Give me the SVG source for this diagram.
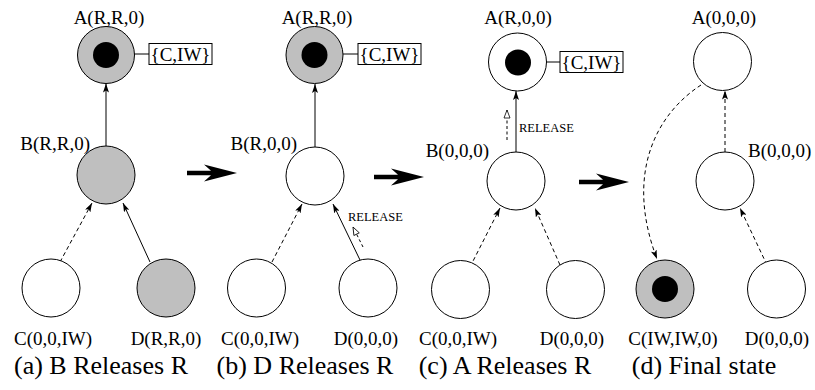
<svg xmlns="http://www.w3.org/2000/svg" width="815" height="390" viewBox="0 0 815 390">
  <style>
    text { font-family: "Liberation Serif", "Times New Roman", serif; fill: #000; }
    .lbl { font-size: 19px; text-anchor: middle; }
    .lbl-end { font-size: 19px; text-anchor: end; }
    .lbl-start { font-size: 19px; text-anchor: start; }
    .cap { font-size: 26px; text-anchor: middle; }
    .rel { font-size: 12.5px; }
    .node { stroke: #000; stroke-width: 1; fill: #fff; }
    .held { fill: #bfbfbf; }
    .token { fill: #000; stroke: none; }
    .tag { fill: #fff; stroke: #000; stroke-width: 1; }
    .edge { fill: none; stroke: #000; stroke-width: 1; }
    .solid { marker-end: url(#tip); }
    .dash { stroke-dasharray: 4 3; marker-end: url(#tip); }
    .release { stroke-dasharray: 3 2.5; marker-end: url(#open); }
    .step { fill: #000; }
  </style>
  <defs>
    <marker id="tip" viewBox="0 0 9 6" refX="9" refY="3" markerWidth="9" markerHeight="6" orient="auto" markerUnits="userSpaceOnUse">
      <path d="M0,0 L9,3 L0,6 L2,3 z" fill="#000"/>
    </marker>
    <marker id="open" viewBox="-1 -1 10 8" refX="8" refY="3" markerWidth="10" markerHeight="8" orient="auto" markerUnits="userSpaceOnUse">
      <path d="M0,0 L8,3 L0,6 z" fill="#fff" stroke="#000" stroke-width="0.8"/>
    </marker>
    <path id="bigArrow" d="M0,-2.2 H24 L17,-8.5 L50,0 L17,8.5 L24,2.2 H0 Z"/>
  </defs>

  <!-- connectors -->
  <g id="connectors">
    <!-- (a) -->
    <path class="edge solid" d="M106,146 L106,83.5"/>
    <path class="edge dash" d="M60,262 L92,203"/>
    <path class="edge solid" d="M150,262 L123,203"/>
    <line class="edge" x1="134" y1="54" x2="149" y2="54"/>
    <!-- (b) -->
    <path class="edge solid" d="M315,147 L315,84"/>
    <path class="edge dash" d="M272,262 L302,204"/>
    <path class="edge solid" d="M360,260 L333,204"/>
    <path class="edge release" d="M363,247 L353,227"/>
    <line class="edge" x1="343" y1="54" x2="358" y2="54"/>
    <!-- (c) -->
    <path class="edge solid" d="M516,152 L516,91"/>
    <path class="edge release" d="M507,140 L507,110"/>
    <path class="edge dash" d="M470,267 L500,208"/>
    <path class="edge dash" d="M560,265 L535,208"/>
    <line class="edge" x1="546" y1="62" x2="560" y2="62"/>
    <!-- (d) -->
    <path class="edge dash" d="M725,152 L725,90.5"/>
    <path class="edge dash" d="M701,85 C655,115 625,175 657,259"/>
    <path class="edge dash" d="M767,265 L740,208"/>
  </g>

  <!-- panel (a) -->
  <g id="a-A">
    <circle class="node held" cx="106" cy="55" r="28.5"/>
    <circle class="token" cx="106" cy="55" r="13"/>
    <text class="lbl" x="109" y="24">A(R,R,0)</text>
  </g>
  <g id="a-tag">
    <rect class="tag" x="149" y="43.5" width="63" height="21"/>
    <text class="lbl" x="180.5" y="60.5">{C,IW}</text>
  </g>
  <g id="a-B">
    <circle class="node held" cx="106" cy="175" r="29"/>
    <text class="lbl-end" x="90" y="150">B(R,R,0)</text>
  </g>
  <g id="a-C">
    <circle class="node" cx="51" cy="288" r="29"/>
    <text class="lbl" x="53" y="345">C(0,0,IW)</text>
  </g>
  <g id="a-D">
    <circle class="node held" cx="166" cy="288" r="29"/>
    <text class="lbl" x="166" y="345">D(R,R,0)</text>
  </g>
  <text class="cap" x="101" y="374">(a) B Releases R</text>

  <!-- panel (b) -->
  <g id="b-A">
    <circle class="node held" cx="314.5" cy="55" r="28.5"/>
    <circle class="token" cx="314.5" cy="55" r="13"/>
    <text class="lbl" x="317" y="24">A(R,R,0)</text>
  </g>
  <g id="b-tag">
    <rect class="tag" x="358" y="43.5" width="63" height="21"/>
    <text class="lbl" x="389.5" y="60.5">{C,IW}</text>
  </g>
  <g id="b-B">
    <circle class="node" cx="315" cy="176" r="29"/>
    <text class="lbl-end" x="297" y="150">B(R,0,0)</text>
  </g>
  <g id="b-C">
    <circle class="node" cx="256.5" cy="288" r="29"/>
    <text class="lbl" x="260" y="345">C(0,0,IW)</text>
  </g>
  <g id="b-D">
    <circle class="node" cx="368" cy="288" r="29"/>
    <text class="lbl" x="366" y="345">D(0,0,0)</text>
  </g>
  <text class="rel" x="348" y="221">RELEASE</text>
  <text class="cap" x="305" y="374">(b) D Releases R</text>

  <!-- panel (c) -->
  <g id="c-A">
    <circle class="node" cx="517.5" cy="62" r="29"/>
    <circle class="token" cx="518" cy="62.5" r="13"/>
    <text class="lbl" x="518" y="24">A(R,0,0)</text>
  </g>
  <g id="c-tag">
    <rect class="tag" x="560" y="51.5" width="63" height="21"/>
    <text class="lbl" x="591.5" y="68.5">{C,IW}</text>
  </g>
  <g id="c-B">
    <circle class="node" cx="516" cy="181" r="29"/>
    <text class="lbl-end" x="489" y="157">B(0,0,0)</text>
  </g>
  <g id="c-C">
    <circle class="node" cx="460.5" cy="289.5" r="29"/>
    <text class="lbl" x="458" y="345">C(0,0,IW)</text>
  </g>
  <g id="c-D">
    <circle class="node" cx="575.5" cy="289.5" r="29"/>
    <text class="lbl" x="572" y="345">D(0,0,0)</text>
  </g>
  <text class="rel" x="519" y="132">RELEASE</text>
  <text class="cap" x="505" y="374">(c) A Releases R</text>

  <!-- panel (d) -->
  <g id="d-A">
    <circle class="node" cx="722.5" cy="61.5" r="29"/>
    <text class="lbl" x="724" y="24">A(0,0,0)</text>
  </g>
  <g id="d-B">
    <circle class="node" cx="725" cy="181" r="29"/>
    <text class="lbl-start" x="748" y="157">B(0,0,0)</text>
  </g>
  <g id="d-C">
    <circle class="node held" cx="665" cy="289" r="29"/>
    <circle class="token" cx="665" cy="289" r="13"/>
    <text class="lbl" x="673" y="345">C(IW,IW,0)</text>
  </g>
  <g id="d-D">
    <circle class="node" cx="776.5" cy="289" r="29"/>
    <text class="lbl" x="777" y="345">D(0,0,0)</text>
  </g>
  <text class="cap" x="704" y="374">(d) Final state</text>

  <!-- transitions between panels -->
  <use href="#bigArrow" class="step" x="187" y="173"/>
  <use href="#bigArrow" class="step" x="374" y="177"/>
  <use href="#bigArrow" class="step" x="579" y="182"/>
</svg>
